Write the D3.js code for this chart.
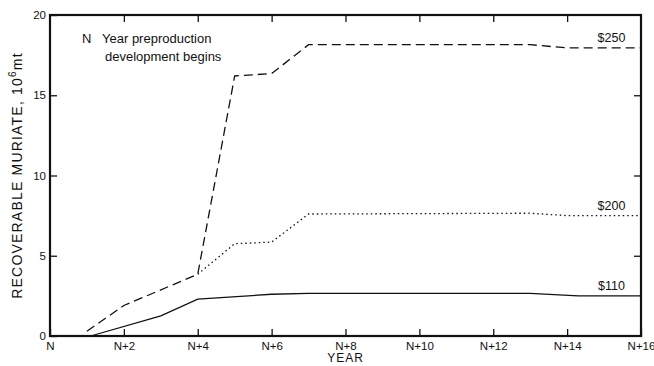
<!DOCTYPE html>
<html>
<head>
<meta charset="utf-8">
<script src="https://cdn.jsdelivr.net/npm/d3@7"></script>
<style>
  body { margin: 0; background: #fff; }
  text { font-family: "Liberation Sans", "DejaVu Sans", sans-serif; fill: #111; }
</style>
</head>
<body>
<div id="chart"></div>
<script>
// years after N, values in 10^6 mt
const years250 = [1, 2, 4, 5, 6, 7, 13, 14, 16];
const vals250 = [0.3, 1.9, 3.85, 16.2, 16.35, 18.15, 18.15, 17.95, 17.95];

const years200 = [4, 5, 6, 7, 13, 14, 16];
const vals200 = [3.85, 5.75, 5.85, 7.6, 7.65, 7.5, 7.5];

const years110 = [1.1, 3, 4, 6, 7, 13, 14.3, 16];
const vals110 = [0, 1.25, 2.3, 2.6, 2.65, 2.65, 2.5, 2.5];

const xTicks = [0, 2, 4, 6, 8, 10, 12, 14, 16];
const xTickLabels = ['N', 'N+2', 'N+4', 'N+6', 'N+8', 'N+10', 'N+12', 'N+14', 'N+16'];
const yTicks = [0, 5, 10, 15, 20];

const series = [
  { name: '$250', years: years250, vals: vals250, dash: '9,5' },
  { name: '$200', years: years200, vals: vals200, dash: '1.5,3' },
  { name: '$110', years: years110, vals: vals110, dash: null }
];

const width = 654, height = 366;
const margin = { top: 15, right: 13, bottom: 30, left: 50 };
const innerW = width - margin.left - margin.right;
const innerH = height - margin.top - margin.bottom;

const svg = d3.select('#chart').append('svg')
  .attr('width', width)
  .attr('height', height);

const g = svg.append('g')
  .attr('transform', `translate(${margin.left},${margin.top})`);

const x = d3.scaleLinear().domain([0, 16]).range([0, innerW]);
const y = d3.scaleLinear().domain([0, 20]).range([innerH, 0]);

// inward ticks on all four sides
const tickLen = 7;
g.append('g')
  .attr('transform', `translate(0,${innerH})`)
  .call(d3.axisBottom(x).tickValues(xTicks).tickSize(-tickLen).tickPadding(6)
    .tickFormat((d, i) => xTickLabels[i]))
  .call(a => a.select('.domain').remove());

g.append('g')
  .call(d3.axisTop(x).tickValues(xTicks.slice(1, -1)).tickSize(-tickLen).tickFormat(''))
  .call(a => a.select('.domain').remove());

g.append('g')
  .call(d3.axisLeft(y).tickValues(yTicks).tickSize(-tickLen).tickPadding(4))
  .call(a => a.select('.domain').remove());

g.append('g')
  .attr('transform', `translate(${innerW},0)`)
  .call(d3.axisRight(y).tickValues(yTicks.slice(1, -1)).tickSize(-tickLen).tickFormat(''))
  .call(a => a.select('.domain').remove());

g.selectAll('.tick line').attr('stroke', '#111').attr('stroke-width', 1.3);
g.selectAll('.tick text').style('font-size', '11.5px').attr('fill', '#111');

// frame
g.append('rect')
  .attr('width', innerW).attr('height', innerH)
  .attr('fill', 'none').attr('stroke', '#111').attr('stroke-width', 2.2);

// lines
const line = d3.line().x(d => x(d[0])).y(d => y(d[1]));
series.forEach(s => {
  const pts = s.years.map((yr, i) => [yr, s.vals[i]]);
  g.append('path')
    .datum(pts)
    .attr('d', line)
    .attr('fill', 'none')
    .attr('stroke', '#111')
    .attr('stroke-width', 1.3)
    .attr('stroke-dasharray', s.dash);
  const last = pts[pts.length - 1];
  g.append('text')
    .attr('x', x(15.2))
    .attr('y', y(last[1]) - 6)
    .attr('text-anchor', 'middle')
    .style('font-size', '12.5px')
    .text(s.name);
});

// note
g.append('text').attr('x', 32).attr('y', 28).style('font-size', '13px').text('N');
g.append('text').attr('x', 52).attr('y', 28).style('font-size', '13px').text('Year preproduction');
g.append('text').attr('x', 55).attr('y', 46).style('font-size', '13px').text('development begins');

// axis titles
svg.append('text')
  .attr('transform', `translate(22,${margin.top + innerH / 2}) rotate(-90)`)
  .attr('text-anchor', 'middle')
  .style('font-size', '14px')
  .style('letter-spacing', '1.2px')
  .html('RECOVERABLE MURIATE, 10<tspan dy="-6" font-size="10px">6</tspan><tspan dy="6">mt</tspan>');

svg.append('text')
  .attr('x', margin.left + x(8))
  .attr('y', 362)
  .attr('text-anchor', 'middle')
  .style('font-size', '12px')
  .style('letter-spacing', '1px')
  .text('YEAR');
</script>
</body>
</html>
